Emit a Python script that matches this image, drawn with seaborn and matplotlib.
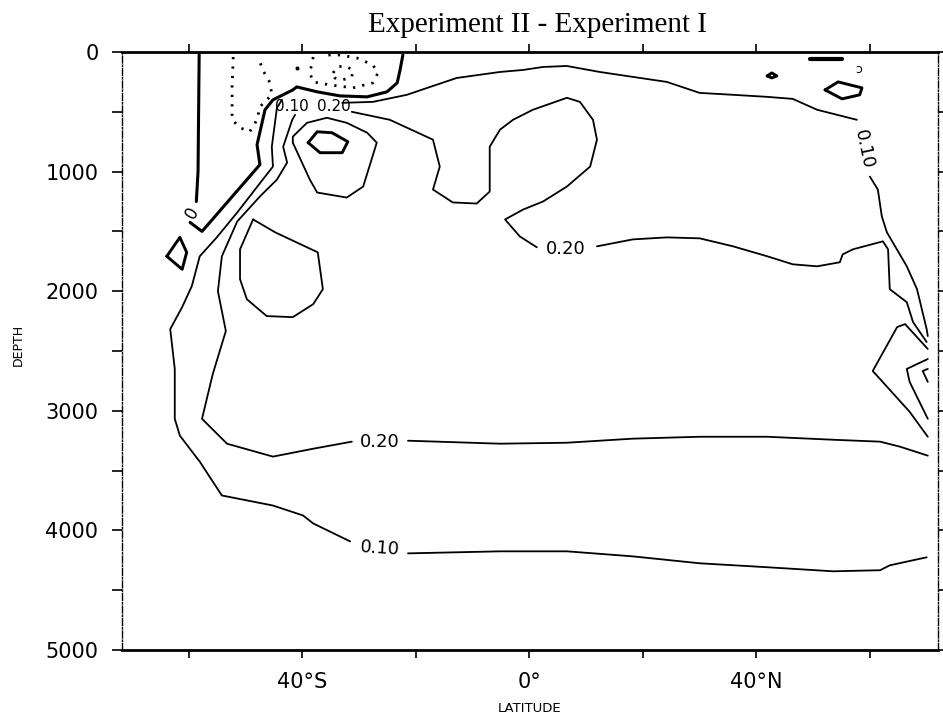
import matplotlib
matplotlib.use("Agg")
import matplotlib.pyplot as plt
import seaborn as sns
import pandas as pd

# ---------------- data (latitude in degrees, depth in m) ----------------
TITLE = "Experiment II - Experiment I"
XTICKS = [-60, -40, -20, 0, 20, 40, 60]
XTICK_LABELS = ["", "40°S", "", "0°", "", "40°N", ""]
YTICKS = [0, 1000, 2000, 3000, 4000, 5000]

# contour 0 (thick)
c0_a = [(-58.2, 20), (-58.3, 500), (-58.4, 1000), (-58.7, 1250)]
c0_b = [(-59.8, 1425), (-57.7, 1500), (-47.5, 942), (-48.0, 775), (-46.6, 483),
        (-45.2, 400), (-41.7, 317), (-41.0, 292), (-37.4, 333), (-33.4, 367),
        (-28.6, 375), (-25.1, 333), (-23.3, 258), (-22.8, 150), (-22.3, 25)]

# negative contours (dotted)
neg_1 = [(-52.2, 42), (-52.4, 292), (-52.4, 567), (-51.0, 633), (-49.3, 667),
         (-48.0, 567), (-47.5, 458), (-45.4, 358), (-45.7, 258), (-47.0, 150),
         (-47.8, 42)]
neg_2 = [(-38.1, 42), (-38.7, 175), (-38.1, 250), (-35.2, 275), (-31.1, 300),
         (-27.6, 258), (-26.7, 175), (-27.6, 108), (-30.4, 50), (-33.4, 25),
         (-36.0, 25)]
neg_3 = [(-34.6, 175), (-33.9, 125), (-32.5, 117), (-31.1, 150), (-31.3, 208),
         (-32.9, 233), (-34.3, 217), (-34.6, 175)]
neg_dot = [(-41.0, 133)]

# contour 0.10
c10_low = [(70.0, 4225), (63.5, 4292), (61.8, 4333), (53.5, 4342), (41.9, 4308),
           (30.0, 4275), (18.2, 4217), (6.6, 4175), (-5.2, 4175), (-21.4, 4192)]
c10_mid = [(-31.6, 4092), (-38.1, 3942), (-39.9, 3875), (-45.2, 3792),
           (-54.2, 3708), (-58.1, 3425), (-61.6, 3208), (-62.5, 3067),
           (-62.5, 2650), (-63.3, 2317), (-61.2, 2133), (-59.5, 1958),
           (-58.1, 1708), (-55.1, 1550), (-51.5, 1342), (-47.0, 1067),
           (-45.2, 958), (-45.4, 792), (-44.5, 467), (-43.6, 400)]
c10_up = [(-33.0, 425), (-27.6, 417), (-21.6, 358), (-17.5, 292), (-12.8, 217),
          (-5.2, 167), (-1.1, 150), (2.4, 125), (6.6, 117), (12.4, 167),
          (18.2, 208), (24.2, 250), (30.0, 342), (35.9, 358), (41.9, 375),
          (46.4, 392), (50.7, 483), (57.7, 567)]
c10_right = [(60.0, 1042), (61.4, 1150), (62.1, 1375), (63.0, 1508), (66.5, 1792),
             (68.3, 1983), (70.0, 2317), (70.2, 2375)]

# contour 0.20
c20_low = [(70.2, 3375), (65.3, 3300), (61.8, 3258), (53.5, 3242), (41.9, 3217),
           (30.0, 3217), (18.2, 3233), (6.6, 3267), (-5.2, 3275), (-21.4, 3250)]
c20_mid = [(-31.3, 3258), (-38.1, 3317), (-45.2, 3383), (-53.3, 3275),
           (-57.7, 3067), (-55.8, 2692), (-53.5, 2333), (-54.9, 2000),
           (-54.2, 1708), (-51.5, 1417), (-47.5, 1208), (-44.5, 1067),
           (-42.7, 925), (-43.4, 792), (-41.8, 567), (-41.3, 525)]
c20_up = [(-31.3, 500), (-24.6, 567), (-17.0, 733), (-15.8, 958), (-17.0, 1150),
          (-13.5, 1258), (-9.3, 1267), (-7.0, 1167), (-7.0, 792), (-5.2, 650),
          (-2.9, 567), (0.6, 483), (6.6, 383), (8.9, 417), (11.2, 567),
          (11.9, 733), (10.7, 958), (6.6, 1125), (2.4, 1250), (-1.1, 1317),
          (-4.3, 1400), (-1.7, 1542), (1.3, 1633)]
c20_right = [(11.9, 1625), (18.2, 1567), (24.2, 1550), (30.0, 1558), (35.9, 1625),
             (41.9, 1708), (46.4, 1775), (50.7, 1792), (54.7, 1758), (55.2, 1692),
             (57.0, 1650), (62.3, 1583), (63.2, 1650), (63.5, 1983), (66.5, 2092),
             (67.6, 2258), (70.0, 2425)]

# closed loops
c30_loop = [(-41.7, 758), (-38.7, 1067), (-37.4, 1175), (-32.2, 1217), (-29.3, 1125),
            (-26.9, 758), (-28.6, 675), (-32.2, 592), (-35.7, 550), (-39.2, 592),
            (-41.7, 708), (-41.7, 758)]
hexagon = [(-39.0, 758), (-37.4, 667), (-34.8, 675), (-32.0, 750), (-33.0, 842),
           (-36.9, 842), (-39.0, 758)]
loop_south = [(-48.7, 1400), (-51.0, 1650), (-51.0, 1900), (-49.8, 2067),
              (-46.3, 2208), (-41.7, 2217), (-38.1, 2108), (-36.4, 1983),
              (-37.3, 1675), (-44.8, 1508), (-48.7, 1400)]
diamond_left = [(-63.9, 1708), (-61.6, 1550), (-60.4, 1675), (-61.2, 1817), (-63.9, 1708)]

# north-edge features
north_v = [(70.2, 2483), (66.2, 2275), (64.8, 2300), (60.5, 2667), (67.0, 3008), (70.2, 3217)]
north_bracket = [(70.2, 2567), (66.5, 2650), (67.0, 2758), (70.2, 3067)]
north_inner = [(70.2, 2650), (69.3, 2667), (70.2, 2758)]
surf_dash = [(49.4, 58), (55.0, 58)]
surf_diamond = [(52.1, 317), (54.4, 250), (58.6, 300), (58.2, 358), (55.1, 392), (52.1, 317)]
surf_tiny = [(41.9, 200), (42.7, 175), (43.6, 200), (42.7, 217), (41.9, 200)]

# contour labels: (lat, depth, text, rotation, size)
LABELS = [(-59.5, 1342, "0", 60, 12),
          (-41.8, 458, "0.10", 0, 11),
          (-34.4, 458, "0.20", 0, 11),
          (6.4, 1650, "0.20", 0, 13),
          (-26.3, 3258, "0.20", 0, 13),
          (-26.3, 4150, "0.10", -4, 13),
          (58.9, 810, "0.10", -78, 13),
          (58.0, 150, "ɔ", 0, 9)]

# ---------------- plotting ----------------
sns.set_theme(style="white")
plt.rcParams["font.family"] = ["DejaVu Sans"]

fig = plt.figure(figsize=(9.43, 7.19), dpi=100)
ax = fig.add_axes([122 / 943, 69 / 719, 816 / 943, 598 / 719])


def draw(points, lw=1.3, ls="-"):
    df = pd.DataFrame(points, columns=["lat", "depth"])
    sns.lineplot(data=df, x="lat", y="depth", sort=False, estimator=None,
                 color="black", lw=lw, linestyle=ls, ax=ax)


for seg in (c0_a, c0_b):
    draw(seg, lw=2.2)
for seg in (neg_1, neg_2, neg_3):
    draw(seg, lw=2.0, ls=(0, (0.8, 2.6)))
sns.scatterplot(data=pd.DataFrame(neg_dot, columns=["lat", "depth"]), x="lat",
                y="depth", color="black", s=10, ax=ax)
for seg in (c10_low, c10_mid, c10_up, c10_right,
            c20_low, c20_mid, c20_up, c20_right,
            c30_loop, loop_south, north_v, north_bracket, north_inner):
    draw(seg, lw=1.3)
for seg in (hexagon, diamond_left, surf_diamond, surf_tiny):
    draw(seg, lw=2.1)
draw(surf_dash, lw=3.0)

for lat, dep, txt, rot, size in LABELS:
    ax.text(lat, dep, txt, ha="center", va="center", rotation=rot,
            fontsize=size, color="black")

ax.set_xlim(-71.8, 72.0)
ax.set_ylim(5000, 0)
ax.set_xticks(XTICKS)
ax.set_xticklabels(XTICK_LABELS)
ax.set_yticks(YTICKS)
ax.set_yticks([500, 1500, 2500, 3500, 4500], minor=True)
ax.set_xlabel("")
ax.set_ylabel("")

ax.tick_params(axis="x", which="major", bottom=True, top=True, direction="out",
               length=6, width=1.2, labelsize=15, pad=10, color="black")
ax.tick_params(axis="y", which="both", left=True, right=True, direction="out",
               length=7, width=1.2, labelsize=15, pad=10, color="black")
for lab in ax.get_yticklabels():
    lab.set_color("black")
for lab in ax.get_xticklabels():
    lab.set_color("black")

for side in ("top", "bottom"):
    ax.spines[side].set_linewidth(2.0)
    ax.spines[side].set_color("black")
for side in ("left", "right"):
    ax.spines[side].set_linewidth(1.0)
    ax.spines[side].set_color("black")
    ax.spines[side].set_linestyle((0, (5, 1.5, 1, 1.5)))

fig.text(538 / 943, 1 - 32 / 719, TITLE, ha="center", va="baseline",
         fontsize=21, family="Liberation Serif", color="black")
fig.text(530 / 943, 1 - 708 / 719, "LATITUDE", ha="center", va="center",
         fontsize=9.5, color="black")
fig.text(18 / 943, 1 - 345 / 719, "DEPTH", ha="center", va="center",
         rotation=90, fontsize=9, color="black")

fig.savefig("out.png", dpi=100, facecolor="white")
